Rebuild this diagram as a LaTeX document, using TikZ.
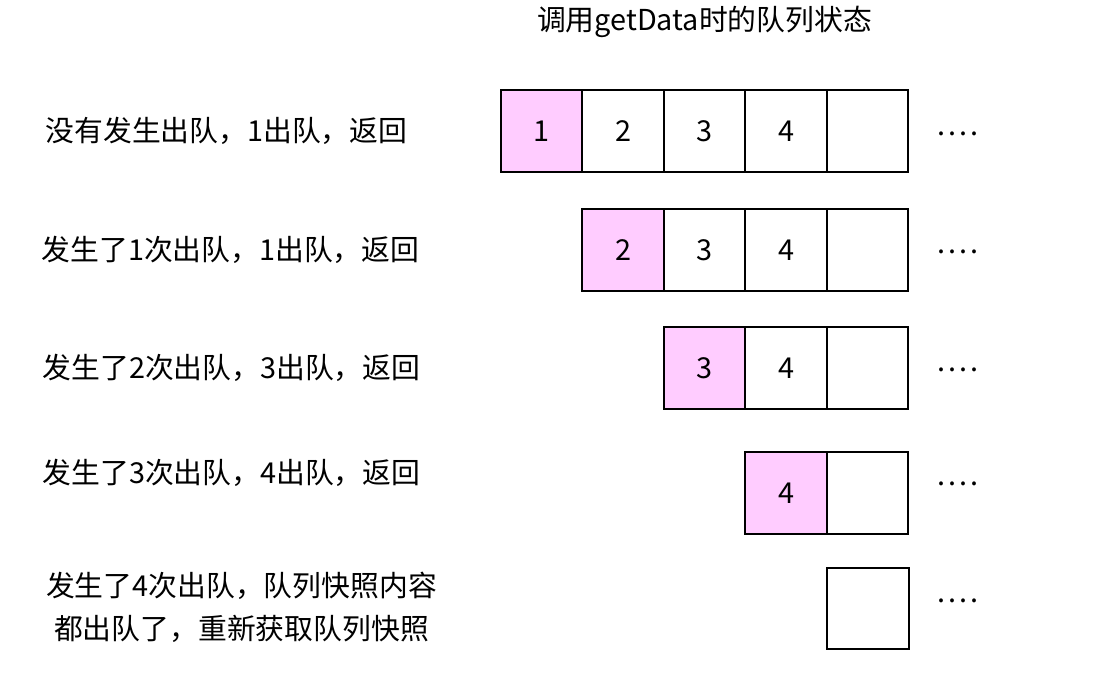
\documentclass[tikz,border=0pt]{standalone}
\usepackage{fontspec}
\setmainfont{Noto Sans CJK SC}
\usetikzlibrary{positioning}
\usepackage{xcolor}
\definecolor{queuePink}{HTML}{FFCCFF}

\begin{document}
\begin{tikzpicture}[font=\fontsize{16.4}{24.5}\selectfont,
  cell/.style={draw, line width=1.1pt, minimum width=1.63cm, minimum height=1.63cm, inner sep=0pt, outer sep=0pt},
  head/.style={cell, fill=queuePink},
  more/.style={anchor=base west, inner sep=0pt}]
  \useasboundingbox (0,0) rectangle (21.88,13.84);
  \node (title) at (14.09,13.4) {调用getData时的队列状态};
  % Row 1: nothing dequeued yet
  \node (lab1) at (4.53,11.22) {没有发生出队，1出队，返回};
  \node[head] (r1c1) at (10.83,11.22) {1};
  \node[cell, right=0pt of r1c1] (r1c2) {2};
  \node[cell, right=0pt of r1c2] (r1c3) {3};
  \node[cell, right=0pt of r1c3] (r1c4) {4};
  \node[cell, right=0pt of r1c4] (r1c5) {};
  \node[more] (dots1) at (18.74,11.13) {.\kern1.8pt.\kern1.8pt.\kern1.8pt.};
  % Row 2: one dequeue happened
  \node (lab2) at (4.61,8.84) {发生了1次出队，1出队，返回};
  \node[head] (r2c1) at (12.46,8.84) {2};
  \node[cell, right=0pt of r2c1] (r2c2) {3};
  \node[cell, right=0pt of r2c2] (r2c3) {4};
  \node[cell, right=0pt of r2c3] (r2c4) {};
  \node[more] (dots2) at (18.74,8.77) {.\kern1.8pt.\kern1.8pt.\kern1.8pt.};
  % Row 3: two dequeues happened
  \node (lab3) at (4.63,6.48) {发生了2次出队，3出队，返回};
  \node[head] (r3c1) at (14.09,6.48) {3};
  \node[cell, right=0pt of r3c1] (r3c2) {4};
  \node[cell, right=0pt of r3c2] (r3c3) {};
  \node[more] (dots3) at (18.74,6.41) {.\kern1.8pt.\kern1.8pt.\kern1.8pt.};
  % Row 4: three dequeues happened
  \node (lab4) at (4.63,4.38) {发生了3次出队，4出队，返回};
  \node[head] (r4c1) at (15.72,3.98) {4};
  \node[cell, right=0pt of r4c1] (r4c2) {};
  \node[more] (dots4) at (18.74,4.13) {.\kern1.8pt.\kern1.8pt.\kern1.8pt.};
  % Row 5: snapshot used up
  \node[align=center] (lab5) at (4.83,1.69) {发生了4次出队，队列快照内容\\都出队了，重新获取队列快照};
  \node[cell] (r5c1) at (17.36,1.67) {};
  \node[more] (dots5) at (18.74,1.79) {.\kern1.8pt.\kern1.8pt.\kern1.8pt.};
\end{tikzpicture}
\end{document}
